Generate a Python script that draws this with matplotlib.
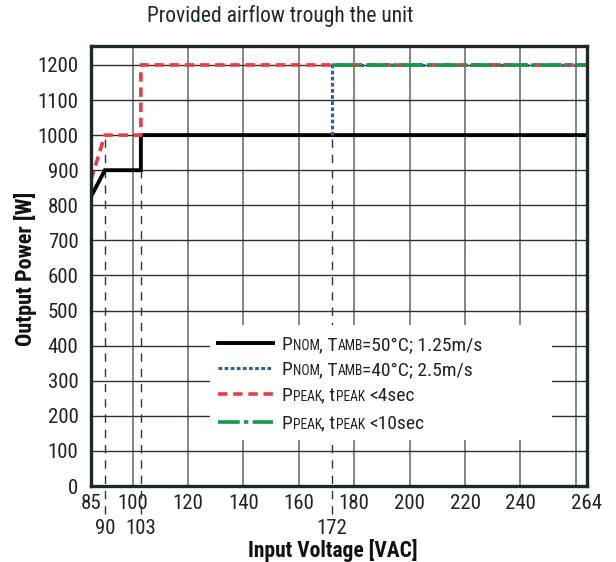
import matplotlib
matplotlib.use("Agg")
import matplotlib.pyplot as plt
import matplotlib.transforms as mtransforms
from matplotlib.lines import Line2D
from matplotlib.patches import Rectangle

plt.rcParams['font.family'] = ['Roboto Condensed', 'DejaVu Sans']

# ---- data ----
x_nom50 = [85, 90, 103, 103, 264]
y_nom50 = [825, 900, 900, 1000, 1000]
x_nom40 = [172, 172, 264]
y_nom40 = [1000, 1200, 1200]
x_peak4 = [85, 90, 103, 103, 264]
y_peak4 = [872, 1000, 1000, 1200, 1200]
x_peak10 = [172, 264]
y_peak10 = [1200, 1200]

ref_x = [90, 103, 172]
ref_top = [1000, 900, 1000]

xtick_vals = [85, 100, 120, 140, 160, 180, 200, 220, 240, 264]
xgrid_vals = [100, 120, 140, 160, 180, 200, 220, 240, 260]
ytick_vals = list(range(0, 1300, 100))

title = "Provided airflow trough the unit"
xlabel = "Input Voltage [VAC]"
ylabel = "Output Power [W]"

W, H = 616, 562
fig = plt.figure(figsize=(W / 100, H / 100), dpi=100)
ax = fig.add_axes([91 / W, 1 - 486 / H, 496 / W, 440 / H])
ax.set_xlim(85, 264)
ax.set_ylim(0, 1254)

# grid
ax.set_xticks(xtick_vals)
ax.set_yticks(ytick_vals)
ax.grid(False)
for v in xgrid_vals:
    ax.axvline(v, color='#5f6666', lw=1.1, zorder=0.5)
for v in ytick_vals[1:]:
    ax.axhline(v, color='#2a3333', lw=1.0, zorder=0.5)

ax.tick_params(axis='both', which='both', length=0, labelsize=15, colors='#222222')
ax.tick_params(axis='x', pad=6)
ax.tick_params(axis='y', pad=9)
for s in ax.spines.values():
    s.set_linewidth(2.4)
    s.set_color('#1e2828')
    s.set_zorder(6)

# reference dashed verticals
for xv, yt in zip(ref_x, ref_top):
    ax.plot([xv, xv], [-80, yt], color='#333333', lw=1.0, ls=(0, (6, 5)),
            clip_on=False, zorder=0.8)

blend = mtransforms.blended_transform_factory(ax.transData, ax.transAxes)
for xv in ref_x:
    ax.text(xv, -0.097, str(xv), transform=blend, ha='center', va='center',
            fontsize=15, color='#222222')

# legend background
ax.add_patch(Rectangle((0.240, 0.105), 0.689, 0.261, transform=ax.transAxes,
                       facecolor='white', edgecolor='none', zorder=1))

# series
c_black = '#000000'
c_blue = '#2a5caa'
c_red = '#ee3a45'
c_green = '#14984a'
st_black = dict(color=c_black, lw=2.8, solid_joinstyle='miter')
st_blue = dict(color=c_blue, lw=2.2, ls=(0, (1.2, 0.8)))
st_red = dict(color=c_red, lw=2.6, ls=(0, (2.6, 1.6)))
st_green = dict(color=c_green, lw=2.6, ls=(0, (6, 1.2, 1.2, 1.2)))

ax.plot(x_nom50, y_nom50, zorder=3, **st_black)
ax.plot(x_nom40, y_nom40, zorder=3, **st_blue)
ax.plot(x_peak4, y_peak4, zorder=4, **st_red)
ax.plot(x_peak10, y_peak10, zorder=5, **st_green)

# legend (manual)
rows_y = [0.325, 0.268, 0.209, 0.145]
styles = [st_black, st_blue, st_red, st_green]
for ry, st in zip(rows_y, styles):
    ax.add_line(Line2D([0.256, 0.367], [ry, ry], transform=ax.transAxes,
                       zorder=7, **st))

big, small = 14, 9.8
labels = [
    [("P", big, 0), ("NOM", small, 0), (", T", big, -1), ("AMB", small, 0.5), ("=50°C; 1.25m/s", big, -0.5)],
    [("P", big, 0), ("NOM", small, 0), (", T", big, -1), ("AMB", small, 0.5), ("=40°C; 2.5m/s", big, -0.5)],
    [("P", big, 0), ("PEAK", small, 0), (", t", big, -1), ("PEAK", small, 0.5), ("<4sec", big, 4)],
    [("P", big, 0), ("PEAK", small, 0), (", t", big, -1), ("PEAK", small, 0.5), ("<10sec", big, 4)],
]
fig.canvas.draw()
renderer = fig.canvas.get_renderer()
ident = mtransforms.IdentityTransform()
for ry, pieces in zip(rows_y, labels):
    x0, y0 = ax.transAxes.transform((0.385, ry))
    y0 -= 7
    x = x0
    for s, sz, gap in pieces:
        x += gap
        t = fig.text(x, y0, s, transform=ident, ha='left', va='baseline',
                     fontsize=sz, color='#222222', zorder=8)
        x += t.get_window_extent(renderer).width

fig.text(280 / W, 1 - 16 / H, title, ha='center', va='center', fontsize=15.5,
         fontweight='normal', color='#1e2828')
fig.text(333 / W, 1 - 550 / H, xlabel, ha='center', va='center', fontsize=15.5,
         fontweight='bold', color='#111111')
fig.text(26 / W, 1 - 269 / H, ylabel, ha='center', va='center', fontsize=16,
         fontweight='bold', color='#111111', rotation=90)

fig.savefig("out.png", dpi=100)
